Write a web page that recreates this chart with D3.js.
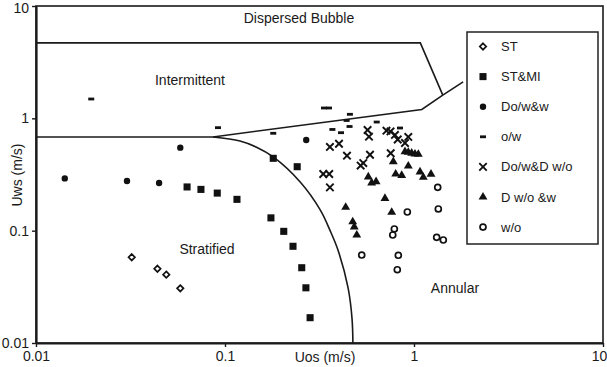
<!DOCTYPE html>
<html>
<head>
<meta charset="utf-8">
<script src="https://cdn.jsdelivr.net/npm/d3@7"></script>
<style>
body { margin: 0; background: #fff; }
text { font-family: "Liberation Sans", Arial, sans-serif; fill: #1a1a1a; }
.axis path, .axis line { stroke: #1a1a1a; }
</style>
</head>
<body>
<div id="chart"></div>
<script>
// values: Uos (x) and Uws (y), m/s
var stUos = [0.0321, 0.0439, 0.0489, 0.058];
var stUws = [0.058, 0.0458, 0.0406, 0.0307];

var stmiUos = [0.063, 0.0746, 0.091, 0.1157, 0.175, 0.2046, 0.229, 0.2547, 0.268, 0.282, 0.180, 0.241];
var stmiUws = [0.245, 0.233, 0.216, 0.190, 0.130, 0.0986, 0.0726, 0.0468, 0.031, 0.0168, 0.4406, 0.371];

var dowwUos = [0.0142, 0.0303, 0.0448, 0.058, 0.269];
var dowwUws = [0.292, 0.277, 0.266, 0.548, 0.641];

var owUos = [0.0196, 0.0918, 0.180, 0.334, 0.355, 0.458, 0.44, 0.456, 0.370, 0.411, 0.635, 0.843];
var owUws = [1.486, 0.826, 0.736, 1.236, 1.236, 1.086, 0.957, 0.846, 0.796, 0.745, 0.927, 0.820];

var dowdUos = [0.331, 0.356, 0.359, 0.359, 0.401, 0.442, 0.522, 0.539, 0.568, 0.578, 0.585, 0.715, 0.751, 0.793, 0.820, 0.896, 0.933, 0.753];
var dowdUws = [0.3195, 0.3195, 0.243, 0.556, 0.594, 0.465, 0.380, 0.400, 0.787, 0.686, 0.474, 0.776, 0.764, 0.711, 0.648, 0.603, 0.683, 0.489];

var dwowUos = [0.896, 0.933, 0.972, 1.012, 1.054, 0.777, 0.933, 0.573, 0.597, 0.630, 0.800, 0.861, 1.076, 1.12, 1.23, 0.702, 0.435, 0.474, 0.483, 0.498, 0.762];
var dwowUws = [0.505, 0.499, 0.489, 0.481, 0.479, 0.411, 0.376, 0.3006, 0.266, 0.273, 0.3195, 0.310, 0.333, 0.2985, 0.318, 0.194, 0.1614, 0.120, 0.108, 0.0915, 0.1457];

var woUos = [1.335, 1.345, 0.922, 0.787, 0.772, 1.318, 1.429, 0.529, 0.826, 0.816];
var woUws = [0.243, 0.156, 0.1466, 0.1035, 0.0915, 0.0873, 0.0826, 0.0607, 0.0604, 0.0449];

// flow pattern boundaries
var dispUos = [0.01, 1.08, 1.42];
var dispUws = [4.7, 4.7, 1.61];
var intUos = [0.0864, 1.10, 1.42, 1.82];
var intUws = [0.683, 1.20, 1.61, 2.11];
var stratUos = [0.01, 0.0864];
var stratUws = [0.683, 0.683];
var annUos = [0.0864, 0.120, 0.146, 0.180, 0.250, 0.319, 0.359, 0.396, 0.448, 0.470, 0.475];
var annUws = [0.683, 0.628, 0.556, 0.453, 0.271, 0.153, 0.101, 0.0673, 0.0309, 0.0165, 0.01];

var tickValues = [0.01, 0.1, 1, 10];
var tickLabels = ['0.01', '0.1', '1', '10'];
var seriesNames = ['ST', 'ST&MI', 'Do/w&w', 'o/w', 'Do/w&D w/o', 'D w/o &w', 'w/o'];

var width = 607, height = 367;
var margin = { top: 6, left: 36, bottom: 24, right: 4 };

var svg = d3.select('#chart').append('svg')
    .attr('width', width)
    .attr('height', height);

var x = d3.scaleLog().domain([0.01, 10]).range([margin.left, width - margin.right]);
var y = d3.scaleLog().domain([0.01, 10]).range([height - margin.bottom, margin.top]);

function pairs(xs, ys) {
    return xs.map((d, i) => [d, ys[i]]);
}

// marker styles, one per series
var markers = [
    { shape: d3.symbolDiamond2, size: 26, fill: 'none', stroke: 1.7 },
    { shape: d3.symbolSquare, size: 50, fill: '#111', stroke: 0 },
    { shape: d3.symbolCircle, size: 32, fill: '#111', stroke: 0 },
    { shape: 'dash' },
    { shape: d3.symbolX, size: 38, fill: 'none', stroke: 1.9 },
    { shape: d3.symbolTriangle, size: 34, fill: '#111', stroke: 0 },
    { shape: d3.symbolCircle, size: 28, fill: 'none', stroke: 1.7 }
];

var series = [
    pairs(stUos, stUws), pairs(stmiUos, stmiUws), pairs(dowwUos, dowwUws),
    pairs(owUos, owUws), pairs(dowdUos, dowdUws), pairs(dwowUos, dwowUws), pairs(woUos, woUws)
];

function drawMarker(g, m) {
    if (m.shape === 'dash') {
        g.append('rect')
            .attr('x', -3).attr('y', -1.4)
            .attr('width', 6).attr('height', 2.8)
            .attr('fill', '#111');
    } else {
        g.append('path')
            .attr('d', d3.symbol().type(m.shape).size(m.size)())
            .attr('fill', m.fill)
            .attr('stroke', m.stroke ? '#111' : 'none')
            .attr('stroke-width', m.stroke);
    }
}

// frame
svg.append('rect')
    .attr('x', x(0.01)).attr('y', y(10))
    .attr('width', x(10) - x(0.01)).attr('height', y(0.01) - y(10))
    .attr('fill', 'none').attr('stroke', '#1a1a1a').attr('stroke-width', 1.6);

// boundaries
var line = d3.line().x(d => x(d[0])).y(d => y(d[1]));
[pairs(dispUos, dispUws), pairs(intUos, intUws), pairs(stratUos, stratUws)].forEach(p => {
    svg.append('path')
        .attr('d', line(p))
        .attr('fill', 'none').attr('stroke', '#1a1a1a').attr('stroke-width', 1.6);
});
svg.append('path')
    .attr('d', line.curve(d3.curveCatmullRom)(pairs(annUos, annUws)))
    .attr('fill', 'none').attr('stroke', '#1a1a1a').attr('stroke-width', 1.6);

// points
series.forEach((s, k) => {
    svg.selectAll('.pt' + k)
        .data(s)
        .enter()
        .append('g')
        .attr('class', 'pt' + k)
        .attr('transform', d => 'translate(' + x(d[0]) + ',' + y(d[1]) + ')')
        .each(function () { drawMarker(d3.select(this), markers[k]); });
});

// axes
var fmt = d => tickLabels[tickValues.indexOf(d)];
var xAxis = svg.append('g')
    .attr('class', 'axis')
    .attr('transform', 'translate(0,' + y(0.01) + ')')
    .call(d3.axisBottom(x).tickValues(tickValues).tickFormat(fmt).tickSize(4).tickSizeOuter(0).tickPadding(4));
var yAxis = svg.append('g')
    .attr('class', 'axis')
    .attr('transform', 'translate(' + x(0.01) + ',0)')
    .call(d3.axisLeft(y).tickValues(tickValues).tickFormat(fmt).tickSize(4).tickSizeOuter(0).tickPadding(3));
svg.selectAll('.axis .domain').attr('stroke-width', 2.2);
svg.selectAll('.axis line').attr('stroke-width', 1.4);
svg.selectAll('.axis text').style('font-size', '14px').attr('fill', '#1a1a1a');
xAxis.selectAll('.tick text').filter(d => d === 10).attr('dx', '-4');
yAxis.selectAll('.tick text').filter(d => d === 10).attr('y', 2);

svg.append('text')
    .attr('x', 325).attr('y', 362)
    .attr('text-anchor', 'middle')
    .style('font-size', '14px')
    .text('Uos (m/s)');
svg.append('text')
    .attr('transform', 'translate(22,175) rotate(-90)')
    .attr('text-anchor', 'middle')
    .style('font-size', '14px')
    .text('Uws (m/s)');

// region labels
var regions = [
    ['Dispersed Bubble', 299, 23], ['Intermittent', 190, 85],
    ['Stratified', 207, 254], ['Annular', 455, 293]
];
svg.selectAll('.region')
    .data(regions)
    .enter()
    .append('text')
    .attr('class', 'region')
    .attr('x', d => d[1]).attr('y', d => d[2])
    .attr('text-anchor', 'middle')
    .style('font-size', '14px')
    .text(d => d[0]);

// legend
var legend = svg.append('g');
legend.append('rect')
    .attr('x', 467).attr('y', 32)
    .attr('width', 131).attr('height', 212)
    .attr('fill', '#fff').attr('stroke', '#222').attr('stroke-width', 1.5);
seriesNames.forEach((name, i) => {
    var g = legend.append('g')
        .attr('transform', 'translate(483,' + (46.5 + i * 30.1) + ')');
    drawMarker(g, markers[i]);
    g.append('text')
        .attr('x', 18).attr('dy', '0.35em')
        .style('font-size', '13px')
        .text(name);
});
</script>
</body>
</html>
